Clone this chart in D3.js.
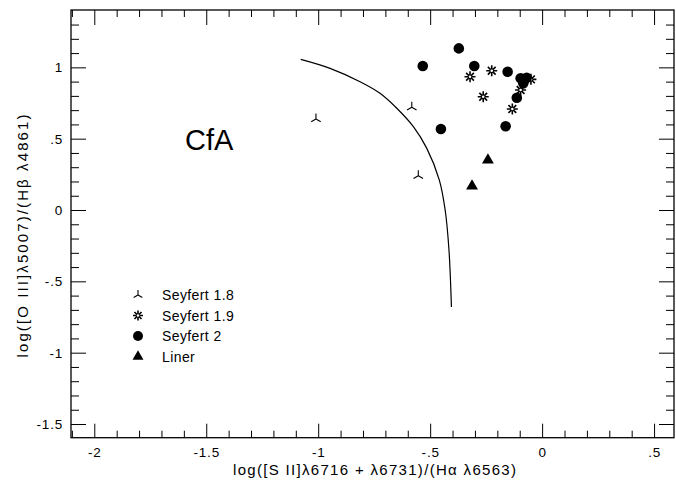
<!DOCTYPE html>
<html>
<head>
<meta charset="utf-8">
<script src="https://cdn.jsdelivr.net/npm/d3@7"></script>
<style>
  body { margin: 0; background: #fff; }
  svg { display: block; }
  text { font-family: "Liberation Sans", Arial, sans-serif; fill: #000; }
</style>
</head>
<body>
<svg id="chart"></svg>
<script>
// values: x = log([S II]/Hα), y = log([O III]/Hβ)
const seyfert18 = [[-1.010, 0.638], [-0.582, 0.720], [-0.553, 0.240]];
const seyfert19 = [[-0.322, 0.934], [-0.225, 0.976], [-0.263, 0.794], [-0.133, 0.708],
                   [-0.096, 0.841], [-0.050, 0.916]];
const seyfert2 = [[-0.372, 1.133], [-0.533, 1.009], [-0.303, 1.009], [-0.154, 0.969],
                  [-0.452, 0.568], [-0.163, 0.587], [-0.113, 0.787], [-0.096, 0.923],
                  [-0.069, 0.927], [-0.084, 0.888]];
const liners = [[-0.242, 0.350], [-0.313, 0.168]];
const divider = [[-1.078, 1.056], [-0.947, 0.993], [-0.813, 0.899], [-0.724, 0.818],
                 [-0.649, 0.713], [-0.575, 0.584], [-0.515, 0.432], [-0.459, 0.210],
                 [-0.433, 0.0], [-0.416, -0.28], [-0.405, -0.68]];

const xMajor = [-2, -1.5, -1, -0.5, 0, 0.5];
const yMajor = [-1.5, -1, -0.5, 0, 0.5, 1];
const legendItems = ["Seyfert 1.8", "Seyfert 1.9", "Seyfert 2", "Liner"];

const width = 676, height = 484;
const xDomain = [-2.104, 0.589], yDomain = [-1.596, 1.402];

const svg = d3.select("#chart").attr("width", width).attr("height", height);

const x = d3.scaleLinear().domain(xDomain).range([71, 674]);
const y = d3.scaleLinear().domain(yDomain).range([437.7, 10]);

const fmt = v => v === 0 ? "0" : String(v).replace("0.", ".");
const near = (a, b) => Math.abs(a - b) < 1e-6;
const xMinor = d3.range(-21, 6).map(i => i / 10)
  .filter(v => v > xDomain[0] && v < xDomain[1] && !xMajor.some(m => near(m, v)));
const yMinor = d3.range(-15, 14).map(i => i / 10)
  .filter(v => v > yDomain[0] && v < yDomain[1] && !yMajor.some(m => near(m, v)));

const x0 = x.range()[0], x1 = x.range()[1];
const y0 = y.range()[0], y1 = y.range()[1];

function addAxis(axis, tx, ty) {
  const g = svg.append("g").attr("transform", `translate(${tx},${ty})`).call(axis);
  g.select(".domain").remove();
  g.selectAll(".tick line").attr("stroke", "#000").attr("stroke-width", 1);
  g.selectAll("text").style("font-size", "13.5px").style("letter-spacing", "0.8px")
    .attr("font-family", null).attr("fill", "#000");
  return g;
}

// bottom + top
addAxis(d3.axisBottom(x).tickValues(xMajor).tickSize(-14).tickPadding(10).tickFormat(fmt), 0, y0);
addAxis(d3.axisBottom(x).tickValues(xMinor).tickSize(-7).tickFormat(""), 0, y0);
addAxis(d3.axisTop(x).tickValues(xMajor).tickSize(-15).tickFormat(""), 0, y1);
addAxis(d3.axisTop(x).tickValues(xMinor).tickSize(-7).tickFormat(""), 0, y1);
// left + right
addAxis(d3.axisLeft(y).tickValues(yMajor).tickSize(-15).tickPadding(8).tickFormat(fmt), x0, 0);
addAxis(d3.axisLeft(y).tickValues(yMinor).tickSize(-8).tickFormat(""), x0, 0);
addAxis(d3.axisRight(y).tickValues(yMajor).tickSize(-15).tickFormat(""), x1, 0);
addAxis(d3.axisRight(y).tickValues(yMinor).tickSize(-8).tickFormat(""), x1, 0);

svg.append("rect")
  .attr("x", x0).attr("y", y1).attr("width", x1 - x0).attr("height", y0 - y1)
  .attr("fill", "none").attr("stroke", "#000").attr("stroke-width", 1.3);

// axis titles
svg.append("text")
  .attr("x", (x0 + x1) / 2 + 2).attr("y", 475)
  .attr("text-anchor", "middle").style("font-size", "15px")
  .attr("textLength", 283).attr("lengthAdjust", "spacing")
  .text("log([S II]λ6716 + λ6731)/(Hα λ6563)");

svg.append("text")
  .attr("transform", "translate(28,236) rotate(-90)")
  .attr("text-anchor", "middle").style("font-size", "15px")
  .attr("textLength", 243).attr("lengthAdjust", "spacing")
  .text("log([O III]λ5007)/(Hβ λ4861)");

svg.append("text")
  .attr("x", 185).attr("y", 150).style("font-size", "29px")
  .text("CfA");

// dividing curve
svg.append("path")
  .datum(divider)
  .attr("fill", "none").attr("stroke", "#000").attr("stroke-width", 1.2)
  .attr("d", d3.line().x(d => x(d[0])).y(d => y(d[1])).curve(d3.curveCatmullRom));

// marker drawers
function tripod(g, r) {
  const p = [90, 210, 330].map(a => {
    const t = a * Math.PI / 180;
    return `M0,0L${(r * Math.cos(t)).toFixed(2)},${(-r * Math.sin(t)).toFixed(2)}`;
  }).join("");
  g.append("path").attr("d", p).attr("stroke", "#000").attr("stroke-width", 1.1).attr("fill", "none");
}
function star(g, r) {
  const p = [0, 45, 90, 135].map(a => {
    const t = a * Math.PI / 180, c = Math.cos(t) * r, s = Math.sin(t) * r;
    return `M${-c},${-s}L${c},${s}`;
  }).join("");
  g.append("path").attr("d", p).attr("stroke", "#000").attr("stroke-width", 1.6).attr("fill", "none");
  g.append("circle").attr("r", 1.3).attr("fill", "#fff");
}
function dot(g, r) {
  g.append("circle").attr("r", r).attr("fill", "#000");
}
function tri(g, r) {
  g.append("path").attr("d", d3.symbol(d3.symbolTriangle, r * r * 1.7)()).attr("fill", "#000");
}

const groups = [
  { data: seyfert18, draw: g => tripod(g, 5.5), legend: g => tripod(g, 5) },
  { data: seyfert19, draw: g => star(g, 5.5), legend: g => star(g, 5) },
  { data: seyfert2, draw: g => dot(g, 5.3), legend: g => dot(g, 5) },
  { data: liners, draw: g => tri(g, 6), legend: g => tri(g, 5.5) }
];

groups.forEach(grp => {
  svg.append("g").selectAll("g")
    .data(grp.data)
    .join("g")
    .attr("transform", d => `translate(${x(d[0])},${y(d[1])})`)
    .each(function () { grp.draw(d3.select(this)); });
});

// legend
const legend = svg.append("g").attr("transform", "translate(138,295)");
legendItems.forEach((name, i) => {
  const row = legend.append("g").attr("transform", `translate(0,${i * 20.5})`);
  groups[i].legend(row.append("g"));
  row.append("text").attr("x", 24).attr("y", 5)
    .style("font-size", "14px").style("letter-spacing", "0.4px")
    .text(name);
});
</script>
</body>
</html>
